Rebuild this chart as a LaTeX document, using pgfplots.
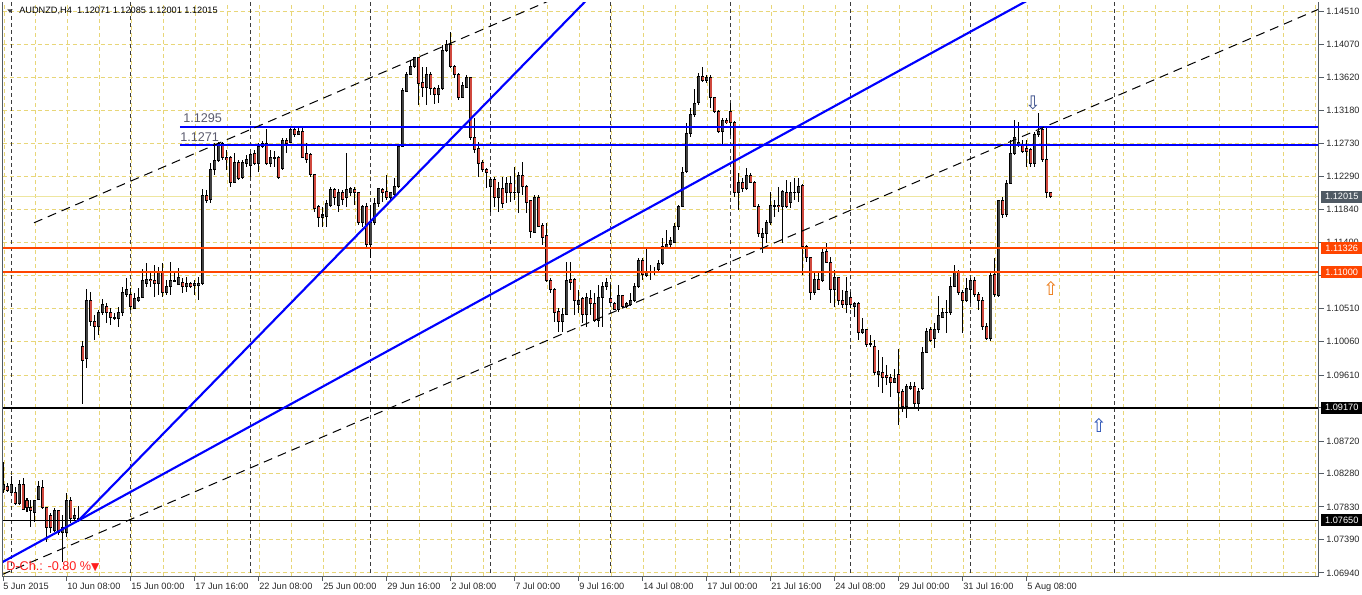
\documentclass[border=0pt]{standalone}
\usepackage{fontspec}
\setmainfont{Liberation Sans}
\newfontfamily\dejavu{DejaVu Sans}
\usepackage{pgfplots}
\pgfplotsset{compat=1.18}
\usepackage{pgfplotstable}

\definecolor{gridyel}{RGB}{232,214,120}
\definecolor{bullc}{RGB}{64,64,64}
\definecolor{bearc}{RGB}{208,72,62}
\definecolor{axisg}{RGB}{84,92,100}
\definecolor{tickc}{RGB}{40,40,40}
\definecolor{orred}{RGB}{255,69,0}
\definecolor{bidc}{RGB}{238,230,160}
\definecolor{boxg}{RGB}{80,90,100}
\definecolor{lblg}{RGB}{90,90,110}
\definecolor{sepc}{RGB}{60,60,60}

\pgfplotstableread{
i o h l c
0 1.0806 1.0844 1.0802 1.0813
1 1.0811 1.0815 1.0803 1.0806
2 1.0803 1.0825 1.0802 1.0813
3 1.0803 1.0810 1.0786 1.0788
4 1.0788 1.0819 1.0786 1.0814
5 1.0814 1.0822 1.0779 1.0780
6 1.0792 1.0795 1.0776 1.0782
7 1.0783 1.0792 1.0756 1.0778
8 1.0776 1.0793 1.0763 1.0792
9 1.0793 1.0818 1.0792 1.0811
10 1.0810 1.0819 1.0780 1.0782
11 1.0782 1.0783 1.0736 1.0755
12 1.0771 1.0775 1.0748 1.0755
13 1.0752 1.0782 1.0749 1.0779
14 1.0778 1.0779 1.0745 1.0748
15 1.0748 1.0772 1.0709 1.0755
16 1.0749 1.0802 1.0743 1.0792
17 1.0792 1.0796 1.0761 1.0768
18 1.0768 1.0782 1.0765 1.0772
19 1.0767 1.0784 1.0763 1.0768
20 1.1000 1.1007 1.0922 1.0981
21 1.0983 1.1077 1.0970 1.1061
22 1.1061 1.1073 1.1027 1.1033
23 1.1033 1.1042 1.1008 1.1027
24 1.1027 1.1049 1.1015 1.1046
25 1.1046 1.1064 1.1042 1.1056
26 1.1054 1.1058 1.1031 1.1045
27 1.1046 1.1051 1.1028 1.1039
28 1.1039 1.1045 1.1035 1.1038
29 1.1038 1.1053 1.1026 1.1046
30 1.1045 1.1080 1.1041 1.1072
31 1.1070 1.1092 1.1066 1.1076
32 1.1069 1.1078 1.1049 1.1053
33 1.1051 1.1072 1.1050 1.1064
34 1.1062 1.1078 1.1060 1.1066
35 1.1066 1.1104 1.1065 1.1089
36 1.1085 1.1112 1.1080 1.1090
37 1.1090 1.1099 1.1080 1.1088
38 1.1088 1.1109 1.1066 1.1084
39 1.1085 1.1107 1.1069 1.1099
40 1.1099 1.1112 1.1066 1.1072
41 1.1072 1.1089 1.1069 1.1080
42 1.1080 1.1113 1.1069 1.1089
43 1.1088 1.1099 1.1086 1.1089
44 1.1083 1.1106 1.1082 1.1092
45 1.1086 1.1092 1.1072 1.1081
46 1.1081 1.1093 1.1073 1.1085
47 1.1085 1.1086 1.1078 1.1081
48 1.1082 1.1089 1.1069 1.1085
49 1.1082 1.1093 1.1062 1.1085
50 1.1085 1.1212 1.1082 1.1203
51 1.1203 1.1211 1.1193 1.1197
52 1.1198 1.1247 1.1193 1.1238
53 1.1238 1.1274 1.1231 1.1251
54 1.1251 1.1275 1.1248 1.1274
55 1.1274 1.1275 1.1251 1.1254
56 1.1254 1.1265 1.1238 1.1252
57 1.1255 1.1256 1.1215 1.1221
58 1.1221 1.1260 1.1220 1.1248
59 1.1248 1.1251 1.1224 1.1226
60 1.1228 1.1251 1.1226 1.1248
61 1.1246 1.1258 1.1242 1.1252
62 1.1244 1.1260 1.1228 1.1258
63 1.1260 1.1265 1.1244 1.1247
64 1.1246 1.1274 1.1235 1.1269
65 1.1269 1.1277 1.1268 1.1274
66 1.1274 1.1293 1.1245 1.1247
67 1.1247 1.1265 1.1242 1.1255
68 1.1255 1.1263 1.1242 1.1254
69 1.1255 1.1256 1.1226 1.1228
70 1.1240 1.1281 1.1238 1.1277
71 1.1277 1.1281 1.1260 1.1274
72 1.1275 1.1296 1.1274 1.1293
73 1.1293 1.1294 1.1282 1.1286
74 1.1286 1.1294 1.1285 1.1290
75 1.1290 1.1296 1.1254 1.1255
76 1.1260 1.1274 1.1247 1.1252
77 1.1258 1.1260 1.1228 1.1231
78 1.1231 1.1232 1.1181 1.1186
79 1.1188 1.1190 1.1161 1.1174
80 1.1174 1.1188 1.1161 1.1177
81 1.1175 1.1197 1.1161 1.1193
82 1.1190 1.1215 1.1188 1.1212
83 1.1212 1.1213 1.1190 1.1200
84 1.1190 1.1212 1.1181 1.1208
85 1.1207 1.1211 1.1190 1.1198
86 1.1200 1.1260 1.1188 1.1212
87 1.1207 1.1215 1.1203 1.1213
88 1.1212 1.1215 1.1190 1.1207
89 1.1207 1.1208 1.1163 1.1167
90 1.1167 1.1190 1.1161 1.1188
91 1.1188 1.1193 1.1132 1.1137
92 1.1137 1.1190 1.1119 1.1167
93 1.1167 1.1200 1.1163 1.1192
94 1.1192 1.1213 1.1188 1.1212
95 1.1212 1.1213 1.1194 1.1208
96 1.1209 1.1231 1.1197 1.1200
97 1.1200 1.1208 1.1194 1.1207
98 1.1204 1.1227 1.1200 1.1216
99 1.1215 1.1271 1.1213 1.1269
100 1.1269 1.1348 1.1268 1.1345
101 1.1344 1.1370 1.1343 1.1367
102 1.1367 1.1386 1.1366 1.1377
103 1.1377 1.1390 1.1375 1.1389
104 1.1389 1.1390 1.1325 1.1355
105 1.1356 1.1377 1.1336 1.1349
106 1.1349 1.1377 1.1325 1.1366
107 1.1366 1.1370 1.1339 1.1348
108 1.1348 1.1349 1.1327 1.1340
109 1.1340 1.1352 1.1328 1.1348
110 1.1348 1.1406 1.1345 1.1399
111 1.1399 1.1413 1.1397 1.1407
112 1.1407 1.1424 1.1375 1.1377
113 1.1377 1.1379 1.1362 1.1367
114 1.1367 1.1369 1.1332 1.1336
115 1.1336 1.1356 1.1335 1.1352
116 1.1349 1.1366 1.1348 1.1362
117 1.1362 1.1363 1.1278 1.1281
118 1.1281 1.1308 1.1260 1.1265
119 1.1267 1.1275 1.1228 1.1247
120 1.1248 1.1251 1.1235 1.1239
121 1.1239 1.1240 1.1213 1.1235
122 1.1216 1.1228 1.1181 1.1225
123 1.1225 1.1228 1.1188 1.1201
124 1.1201 1.1221 1.1181 1.1213
125 1.1213 1.1228 1.1186 1.1193
126 1.1207 1.1228 1.1193 1.1220
127 1.1219 1.1230 1.1194 1.1208
128 1.1207 1.1242 1.1197 1.1208
129 1.1207 1.1235 1.1180 1.1230
130 1.1230 1.1248 1.1204 1.1215
131 1.1216 1.1217 1.1180 1.1194
132 1.1196 1.1197 1.1146 1.1154
133 1.1154 1.1204 1.1153 1.1201
134 1.1201 1.1204 1.1161 1.1162
135 1.1163 1.1166 1.1137 1.1147
136 1.1149 1.1166 1.1087 1.1088
137 1.1088 1.1092 1.1072 1.1076
138 1.1076 1.1078 1.1033 1.1046
139 1.1047 1.1051 1.1019 1.1033
140 1.1033 1.1051 1.1019 1.1043
141 1.1043 1.1113 1.1042 1.1088
142 1.1090 1.1113 1.1076 1.1086
143 1.1090 1.1092 1.1042 1.1062
144 1.1056 1.1076 1.1045 1.1061
145 1.1064 1.1066 1.1031 1.1043
146 1.1043 1.1072 1.1026 1.1065
147 1.1065 1.1076 1.1042 1.1058
148 1.1058 1.1072 1.1033 1.1035
149 1.1035 1.1082 1.1026 1.1065
150 1.1065 1.1086 1.1026 1.1081
151 1.1080 1.1092 1.1076 1.1086
152 1.1064 1.1084 1.1058 1.1059
153 1.1058 1.1060 1.1049 1.1050
154 1.1050 1.1082 1.1046 1.1069
155 1.1068 1.1069 1.1051 1.1053
156 1.1053 1.1060 1.1051 1.1057
157 1.1056 1.1072 1.1054 1.1061
158 1.1061 1.1085 1.1060 1.1080
159 1.1080 1.1119 1.1078 1.1116
160 1.1116 1.1119 1.1089 1.1097
161 1.1096 1.1133 1.1093 1.1100
162 1.1100 1.1109 1.1089 1.1101
163 1.1101 1.1107 1.1096 1.1100
164 1.1103 1.1116 1.1099 1.1111
165 1.1111 1.1146 1.1109 1.1134
166 1.1134 1.1157 1.1132 1.1137
167 1.1137 1.1147 1.1134 1.1143
168 1.1140 1.1166 1.1139 1.1162
169 1.1162 1.1190 1.1157 1.1189
170 1.1189 1.1242 1.1188 1.1235
171 1.1235 1.1301 1.1234 1.1287
172 1.1287 1.1321 1.1282 1.1312
173 1.1312 1.1347 1.1309 1.1328
174 1.1328 1.1369 1.1325 1.1364
175 1.1364 1.1377 1.1356 1.1358
176 1.1358 1.1366 1.1355 1.1363
177 1.1363 1.1366 1.1321 1.1335
178 1.1335 1.1336 1.1314 1.1316
179 1.1317 1.1319 1.1287 1.1289
180 1.1290 1.1308 1.1271 1.1304
181 1.1304 1.1308 1.1300 1.1302
182 1.1316 1.1328 1.1285 1.1302
183 1.1302 1.1304 1.1201 1.1208
184 1.1208 1.1234 1.1184 1.1221
185 1.1221 1.1227 1.1208 1.1213
186 1.1213 1.1240 1.1211 1.1230
187 1.1230 1.1234 1.1220 1.1221
188 1.1221 1.1223 1.1188 1.1189
189 1.1189 1.1192 1.1147 1.1152
190 1.1147 1.1159 1.1126 1.1152
191 1.1152 1.1170 1.1139 1.1167
192 1.1167 1.1208 1.1163 1.1190
193 1.1189 1.1197 1.1174 1.1190
194 1.1190 1.1215 1.1181 1.1188
195 1.1188 1.1211 1.1139 1.1208
196 1.1208 1.1224 1.1186 1.1189
197 1.1194 1.1221 1.1186 1.1208
198 1.1207 1.1227 1.1197 1.1208
199 1.1208 1.1227 1.1194 1.1216
200 1.1217 1.1219 1.1096 1.1134
201 1.1134 1.1137 1.1113 1.1119
202 1.1119 1.1120 1.1062 1.1073
203 1.1073 1.1099 1.1069 1.1090
204 1.1090 1.1099 1.1076 1.1077
205 1.1089 1.1133 1.1086 1.1126
206 1.1127 1.1139 1.1112 1.1113
207 1.1113 1.1120 1.1058 1.1076
208 1.1076 1.1103 1.1053 1.1092
209 1.1092 1.1093 1.1056 1.1062
210 1.1062 1.1076 1.1051 1.1056
211 1.1056 1.1093 1.1045 1.1074
212 1.1066 1.1073 1.1051 1.1056
213 1.1054 1.1060 1.1039 1.1058
214 1.1058 1.1060 1.1008 1.1018
215 1.1018 1.1038 1.1016 1.1022
216 1.1022 1.1023 1.0999 1.1002
217 1.1003 1.1015 1.0999 1.1004
218 1.1000 1.1008 1.0961 1.0964
219 1.0962 1.0995 1.0945 1.0966
220 1.0965 1.0985 1.0937 1.0958
221 1.0961 1.0974 1.0947 1.0958
222 1.0958 1.0962 1.0931 1.0951
223 1.0951 1.0969 1.0950 1.0957
224 1.0962 1.0996 1.0894 1.0938
225 1.0939 1.0942 1.0911 1.0918
226 1.0918 1.0949 1.0903 1.0945
227 1.0943 1.0952 1.0941 1.0946
228 1.0946 1.0952 1.0918 1.0923
229 1.0923 1.0943 1.0912 1.0939
230 1.0943 1.0999 1.0941 1.0992
231 1.0992 1.1024 1.0991 1.1020
232 1.1022 1.1026 1.1006 1.1008
233 1.1010 1.1031 1.0997 1.1022
234 1.1022 1.1067 1.1018 1.1041
235 1.1039 1.1051 1.1038 1.1046
236 1.1045 1.1062 1.1018 1.1046
237 1.1045 1.1093 1.1042 1.1081
238 1.1081 1.1109 1.1080 1.1101
239 1.1101 1.1103 1.1069 1.1072
240 1.1072 1.1076 1.1018 1.1062
241 1.1062 1.1092 1.1060 1.1078
242 1.1077 1.1092 1.1058 1.1089
243 1.1089 1.1093 1.1066 1.1070
244 1.1070 1.1073 1.1049 1.1061
245 1.1062 1.1066 1.1022 1.1026
246 1.1027 1.1031 1.1008 1.1010
247 1.1010 1.1100 1.1007 1.1096
248 1.1096 1.1119 1.1066 1.1069
249 1.1069 1.1197 1.1067 1.1196
250 1.1196 1.1201 1.1173 1.1177
251 1.1177 1.1224 1.1174 1.1220
252 1.1220 1.1278 1.1219 1.1260
253 1.1260 1.1305 1.1258 1.1282
254 1.1271 1.1302 1.1269 1.1275
255 1.1271 1.1278 1.1260 1.1262
256 1.1266 1.1278 1.1242 1.1263
257 1.1266 1.1267 1.1242 1.1247
258 1.1247 1.1289 1.1242 1.1286
259 1.1286 1.1314 1.1282 1.1290
260 1.1292 1.1297 1.1248 1.1252
261 1.1252 1.1296 1.1200 1.1207
262 1.12071 1.12085 1.12001 1.12015
}\candles

\begin{document}
\begin{tikzpicture}[x=1pt,y=1pt]
\path[use as bounding box] (0,0) rectangle (1021.5,445.5);
\begin{axis}[name=ax, at={(2.025pt,13.5pt)}, anchor=south west,
  scale only axis, width=987.2pt, height=430.5pt,
  xmin=-0.075, xmax=329, ymin=1.068991, ymax=1.146423,
  axis line style={draw=none},
  xtick={0,16,...,256},
  xticklabels={5 Jun 2015,10 Jun 08:00,15 Jun 00:00,17 Jun 16:00,22 Jun 08:00,25 Jun 00:00,29 Jun 16:00,2 Jul 08:00,7 Jul 00:00,9 Jul 16:00,14 Jul 08:00,17 Jul 00:00,21 Jul 16:00,24 Jul 08:00,29 Jul 00:00,31 Jul 16:00,5 Aug 08:00},
  ytick={1.14510,1.14070,1.13620,1.13180,1.12730,1.12290,1.11840,1.11400,1.10950,1.10510,1.10060,1.09610,1.09170,1.08720,1.08280,1.07830,1.07390,1.06940},
  yticklabels={1.14510,1.14070,1.13620,1.13180,1.12730,1.12290,1.11840,1.11400,1.10950,1.10510,1.10060,1.09610,1.09170,1.08720,1.08280,1.07830,1.07390,1.06940},
  xtick pos=left, ytick pos=right, yticklabel pos=right,
  tick align=outside, major tick length=3.75pt,
  tick style={draw=axisg, line width=0.75pt},
  xticklabel style={anchor=north west, inner sep=0pt, xshift=0pt, yshift=-1.5pt, font=\fontsize{6.9}{8}\selectfont, text=tickc},
  yticklabel style={anchor=west, inner sep=0pt, xshift=1.5pt, font=\fontsize{6.9}{8}\selectfont, text=tickc},
  ymajorgrids, major grid style={gridyel, line width=0.75pt, dash pattern=on 3pt off 2.25pt},
  minor xtick={0.25,8.25,...,328.25}, xminorgrids, minor tick length=0pt,
  minor grid style={gridyel, line width=0.75pt, dash pattern=on 3pt off 2.25pt},
  unbounded coords=jump,
]
% bid line
\addplot[bidc, line width=0.75pt, forget plot] coordinates {(-1,1.12015) (330,1.12015)};
% weekly separators
\addplot[sepc, line width=0.75pt, dash pattern=on 3pt off 2.25pt, forget plot] coordinates {
(2,1.06) (2,1.15) (2,nan)
(32,1.06) (32,1.15) (32,nan)
(62,1.06) (62,1.15) (62,nan)
(92,1.06) (92,1.15) (92,nan)
(122,1.06) (122,1.15) (122,nan)
(152,1.06) (152,1.15) (152,nan)
(182,1.06) (182,1.15) (182,nan)
(212,1.06) (212,1.15) (212,nan)
(242,1.06) (242,1.15) (242,nan)
(278,1.06) (278,1.15)};
% wicks
\addplot[draw=none, mark=none, forget plot,
  error bars/.cd, y dir=both, y explicit, error mark=none,
  error bar style={draw=black, line width=0.75pt}]
  table[x=i, y expr={(\thisrow{h}+\thisrow{l})/2}, y error expr={(\thisrow{h}-\thisrow{l})/2}] {\candles};
% body outlines
\addplot[draw=none, mark=none, forget plot,
  error bars/.cd, y dir=both, y explicit, error mark=none,
  error bar style={draw=black, line width=2.25pt}]
  table[x=i, y expr={(\thisrow{o}+\thisrow{c})/2}, y error expr={abs(\thisrow{o}-\thisrow{c})/2+0.0000675}] {\candles};
% bull fill
\addplot[draw=none, mark=none, forget plot,
  error bars/.cd, y dir=both, y explicit, error mark=none,
  error bar style={draw=bullc, line width=0.8pt}]
  table[x=i, y expr={\thisrow{c}>\thisrow{o} ? (\thisrow{o}+\thisrow{c})/2 : nan}, y error expr={max(abs(\thisrow{o}-\thisrow{c})/2-0.0000675,0)}] {\candles};
% bear fill
\addplot[draw=none, mark=none, forget plot,
  error bars/.cd, y dir=both, y explicit, error mark=none,
  error bar style={draw=bearc, line width=0.8pt}]
  table[x=i, y expr={\thisrow{c}>\thisrow{o} ? nan : (\thisrow{o}+\thisrow{c})/2}, y error expr={max(abs(\thisrow{o}-\thisrow{c})/2-0.0000675,0)}] {\candles};
% horizontal levels
\addplot[blue, line width=1.5pt, forget plot] coordinates {(44.25,1.1295) (330,1.1295)};
\addplot[blue, line width=1.5pt, forget plot] coordinates {(44.25,1.1271) (330,1.1271)};
\addplot[orred, line width=1.5pt, forget plot] coordinates {(-1,1.11326) (330,1.11326)};
\addplot[orred, line width=1.5pt, forget plot] coordinates {(-1,1.11000) (330,1.11000)};
\addplot[black, line width=1.5pt, forget plot] coordinates {(-1,1.09170) (330,1.09170)};
\addplot[black, line width=0.75pt, forget plot] coordinates {(-1,1.07650) (330,1.07650)};
% channel (dashed)
\addplot[black, line width=0.75pt, dash pattern=on 6.75pt off 4.5pt, forget plot] coordinates {(-0.25,1.06918) (329,1.14547)};
\addplot[black, line width=0.75pt, dash pattern=on 6.75pt off 4.5pt, forget plot] coordinates {(7.75,1.11664) (148.6,1.14939)};
% blue trend lines
\addplot[blue, line width=1.6pt, forget plot] coordinates {(-1,1.07061) (265.45,1.14939)};
\addplot[blue, line width=1.6pt, forget plot] coordinates {(18.75,1.07641) (150.8,1.14939)};
% arrows
\addplot[only marks, mark=text, text mark={\textcolor[RGB]{60,80,140}{\dejavu\fontsize{14}{14}\selectfont ⇩}}, forget plot] coordinates {(257.5,1.13280)};
\addplot[only marks, mark=text, text mark={\textcolor[RGB]{235,120,20}{\dejavu\fontsize{14}{14}\selectfont ⇧}}, forget plot] coordinates {(262,1.10784)};
\addplot[only marks, mark=text, text mark={\textcolor[RGB]{40,80,180}{\dejavu\fontsize{14}{14}\selectfont ⇧}}, forget plot] coordinates {(274,1.08936)};
% level labels
\node[anchor=west, inner sep=0pt, text=lblg, font=\fontsize{9.5}{10}\selectfont] at (axis cs:45,1.13078) {1.1295};
\node[anchor=west, inner sep=0pt, text=lblg, font=\fontsize{9.5}{10}\selectfont] at (axis cs:44.25,1.12821) {1.1271};
% coordinates for right-hand boxes
\coordinate (b1) at (axis cs:329,1.12015);
\coordinate (b2) at (axis cs:329,1.11326);
\coordinate (b3) at (axis cs:329,1.11000);
\coordinate (b4) at (axis cs:329,1.09170);
\coordinate (b5) at (axis cs:329,1.07650);
\end{axis}
% frame
\draw[axisg, line width=0.75pt] (ax.north west) -- (ax.south west) -- (ax.south east) -- (ax.north east);
% price boxes
\tikzset{pbox/.style={anchor=west, xshift=1.5pt, inner sep=0pt, minimum height=9pt, minimum width=30.75pt, text=white, font=\fontsize{6.9}{8}\selectfont}}
\node[pbox, fill=boxg] at (b1) {1.12015};
\node[pbox, fill=orred] at (b2) {1.11326};
\node[pbox, fill=orred] at (b3) {1.11000};
\node[pbox, fill=black] at (b4) {1.09170};
\node[pbox, fill=black] at (b5) {1.07650};
% title
\fill[black!75] (5.5,438.5) -- (9.5,438.5) -- (7.5,435.8) -- cycle;
\node[anchor=west, inner sep=0pt, font=\fontsize{6.9}{8}\selectfont, text=black] at (14.25,437.2) {AUDNZD,H4\ \ 1.12071 1.12085 1.12001 1.12015};
% daily change
\node[anchor=west, inner sep=0pt, font=\fontsize{9.5}{10}\selectfont, text={rgb,255:red,255;green,30;blue,30}] at (4.5,20.5) {D-Ch.: -0.80 \%{\dejavu\fontsize{8}{8}\selectfont ▼}};
\end{tikzpicture}
\end{document}
